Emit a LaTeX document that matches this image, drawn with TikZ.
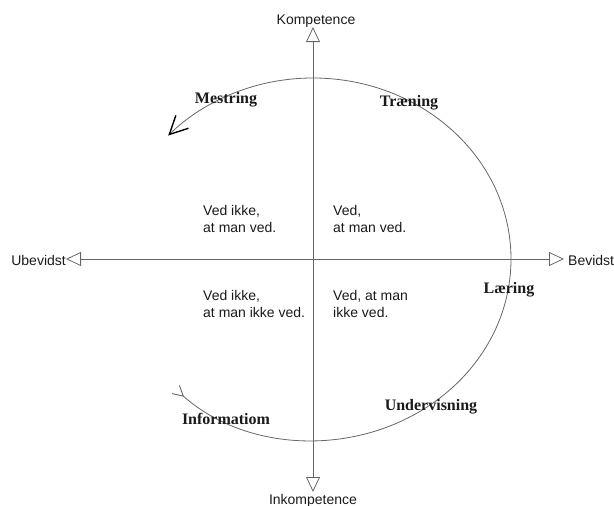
\documentclass[tikz,border=0pt]{standalone}
\usepackage{fontspec}
\setmainfont{Liberation Serif}
\setsansfont{Liberation Sans}
\usetikzlibrary{arrows.meta,calc}
\definecolor{linegray}{HTML}{666666}
\definecolor{txt}{HTML}{1A1A1A}
\tikzset{
  axisline/.style={draw=linegray, line width=0.8pt,
    {Triangle[open,length=15pt,width=14pt,line width=0.8pt]}-{Triangle[open,length=15pt,width=14pt,line width=0.8pt]}},
  axlabel/.style={text=txt, font=\sffamily\fontsize{14}{16}\selectfont, inner sep=0pt},
  quadtext/.style={text=txt, font=\sffamily\fontsize{14}{17}\selectfont, align=left, anchor=west, inner sep=0pt},
  stagelabel/.style={text=txt, font=\bfseries\fontsize{16}{18}\selectfont, inner sep=0pt},
  cycleline/.style={draw=linegray, line width=0.8pt},
}
\begin{document}
\begin{tikzpicture}[x=1pt,y=-1pt]
\useasboundingbox (0,0) rectangle (614,506);
% axis end points
\coordinate (ctr) at (313,259);
\coordinate (top) at (313,27);
\coordinate (bot) at (313,492);
\coordinate (lft) at (66,259);
\coordinate (rgt) at (564,259);
\draw[axisline] (bot) -- (top);
\draw[axisline] (lft) -- (rgt);
% axis labels
\node[axlabel, anchor=south] (komp) at (316,28) {Kompetence};
\node[axlabel, anchor=north] (inkomp) at (313,494) {Inkompetence};
\node[axlabel, anchor=east] (ubev) at (66,260) {Ubevidst};
\node[axlabel, anchor=west] (bev) at (568,260) {Bevidst};
% quadrant texts
\node[quadtext] (q1) at (203,218.5) {Ved ikke,\\at man ved.};
\node[quadtext] (q2) at (333,218.5) {Ved,\\at man ved.};
\node[quadtext] (q3) at (203,303.5) {Ved ikke,\\at man ikke ved.};
\node[quadtext] (q4) at (333,303.5) {Ved, at man\\ikke ved.};
% cycle curve
\coordinate (cstart) at ($(ctr)+(134:198 and 181)$);
\draw[cycleline,
  {Straight Barb[reversed,length=10pt,width=11pt,line width=0.9pt,color=linegray]}-{Straight Barb[length=18pt,width=18pt,line width=1.4pt,color=black]}]
  (cstart) arc[start angle=134, end angle=-137, x radius=198, y radius=181];
% stage labels
\node[stagelabel] (mestring) at (226,100) {Mestring};
\node[stagelabel] (traening) at (409,103) {Træning};
\node[stagelabel] (laering) at (509,290) {Læring};
\node[stagelabel] (undervis) at (431,407) {Undervisning};
\node[stagelabel] (inform) at (226,419) {Informatiom};
\end{tikzpicture}
\end{document}
